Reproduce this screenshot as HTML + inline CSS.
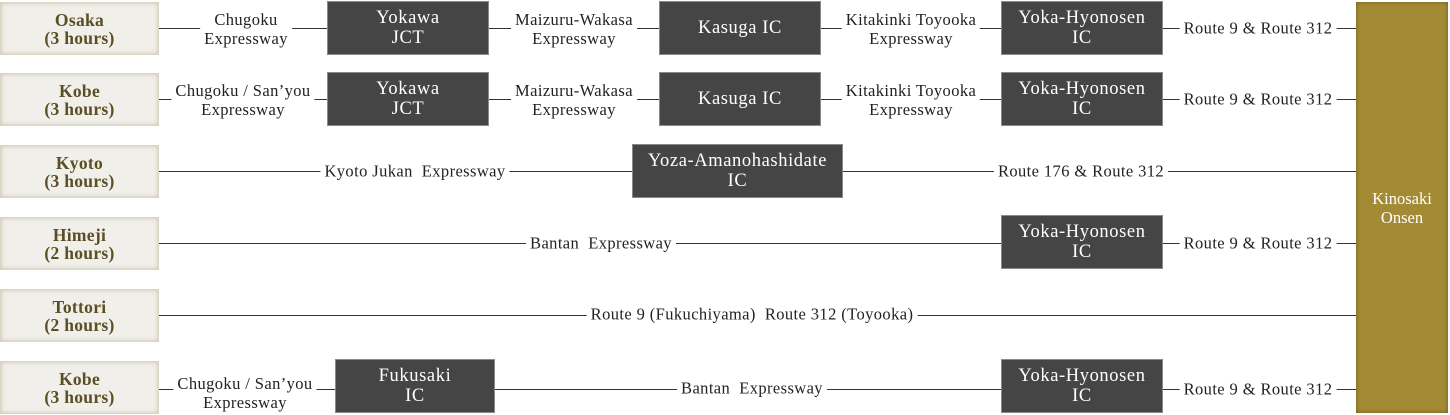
<!DOCTYPE html><html><head><style>
body{margin:0;width:1450px;height:415px;background:#fff;position:relative;overflow:hidden;font-family:"Liberation Serif",serif}
.s{position:absolute;left:0;width:159px;height:53px;background:#f1efe9;box-shadow:inset 0 0 4px #c8c2ad;border:1px solid #d9d4c4;box-sizing:border-box;color:#5a4e25;font-weight:bold;font-size:17.5px;line-height:18px;letter-spacing:0.3px;text-align:center;display:flex;align-items:center;justify-content:center}
.d{position:absolute;height:54px;background:#454545;border:1px solid #8a8a8a;box-sizing:border-box;color:#fff;font-size:18.5px;line-height:20px;letter-spacing:0.6px;text-align:center;display:flex;align-items:center;justify-content:center}
.l{position:absolute;height:1px;background:#333}
.t{position:absolute;transform:translate(-50%,-50%);background:#fff;color:#222;font-size:16.5px;letter-spacing:0.4px;line-height:19px;text-align:center;white-space:nowrap;padding:0 4px}
.g{position:absolute;left:1356px;top:2px;width:92px;height:411px;background:#a38a34;box-shadow:inset 0 0 4px #6e5c20;color:#fff;font-size:16.5px;line-height:19px;display:flex;align-items:center;justify-content:center;text-align:center}
</style></head><body>
<div class="g">Kinosaki<br>Onsen</div>

<div class="l" style="left:159px;width:1197px;top:28px"></div>
<div class="l" style="left:159px;width:1197px;top:99px"></div>
<div class="l" style="left:159px;width:1197px;top:171px"></div>
<div class="l" style="left:159px;width:1197px;top:243px"></div>
<div class="l" style="left:159px;width:1197px;top:315px"></div>
<div class="l" style="left:159px;width:1197px;top:389px"></div>

<div class="s" style="top:2px">Osaka<br>(3 hours)</div>
<div class="s" style="top:73px">Kobe<br>(3 hours)</div>
<div class="s" style="top:145px">Kyoto<br>(3 hours)</div>
<div class="s" style="top:217px">Himeji<br>(2 hours)</div>
<div class="s" style="top:289px">Tottori<br>(2 hours)</div>
<div class="s" style="top:361px">Kobe<br>(3 hours)</div>

<div class="d" style="left:327px;width:162px;top:1px">Yokawa<br>JCT</div>
<div class="d" style="left:659px;width:162px;top:1px">Kasuga IC</div>
<div class="d" style="left:1001px;width:162px;top:1px">Yoka-Hyonosen<br>IC</div>
<div class="d" style="left:327px;width:162px;top:72px">Yokawa<br>JCT</div>
<div class="d" style="left:659px;width:162px;top:72px">Kasuga IC</div>
<div class="d" style="left:1001px;width:162px;top:72px">Yoka-Hyonosen<br>IC</div>
<div class="d" style="left:632px;width:211px;top:144px">Yoza-Amanohashidate<br>IC</div>
<div class="d" style="left:1001px;width:162px;top:215px">Yoka-Hyonosen<br>IC</div>
<div class="d" style="left:335px;width:160px;top:359px">Fukusaki<br>IC</div>
<div class="d" style="left:1001px;width:162px;top:359px">Yoka-Hyonosen<br>IC</div>

<div class="t" style="left:246px;top:29px">Chugoku<br>Expressway</div>
<div class="t" style="left:574px;top:29px">Maizuru-Wakasa<br>Expressway</div>
<div class="t" style="left:911px;top:29px">Kitakinki Toyooka<br>Expressway</div>
<div class="t" style="left:1258px;top:28px">Route 9 &amp; Route 312</div>

<div class="t" style="left:243px;top:100px">Chugoku / San’you<br>Expressway</div>
<div class="t" style="left:574px;top:100px">Maizuru-Wakasa<br>Expressway</div>
<div class="t" style="left:911px;top:100px">Kitakinki Toyooka<br>Expressway</div>
<div class="t" style="left:1258px;top:99px">Route 9 &amp; Route 312</div>

<div class="t" style="left:415px;top:171px">Kyoto Jukan&nbsp; Expressway</div>
<div class="t" style="left:1081px;top:171px">Route 176 &amp; Route 312</div>
<div class="t" style="left:601px;top:243px">Bantan&nbsp; Expressway</div>
<div class="t" style="left:1258px;top:243px">Route 9 &amp; Route 312</div>
<div class="t" style="left:752px;top:314px">Route 9 (Fukuchiyama)&nbsp; Route 312 (Toyooka)</div>
<div class="t" style="left:245px;top:393px">Chugoku / San’you<br>Expressway</div>
<div class="t" style="left:752px;top:388px">Bantan&nbsp; Expressway</div>
<div class="t" style="left:1258px;top:389px">Route 9 &amp; Route 312</div>
</body></html>
